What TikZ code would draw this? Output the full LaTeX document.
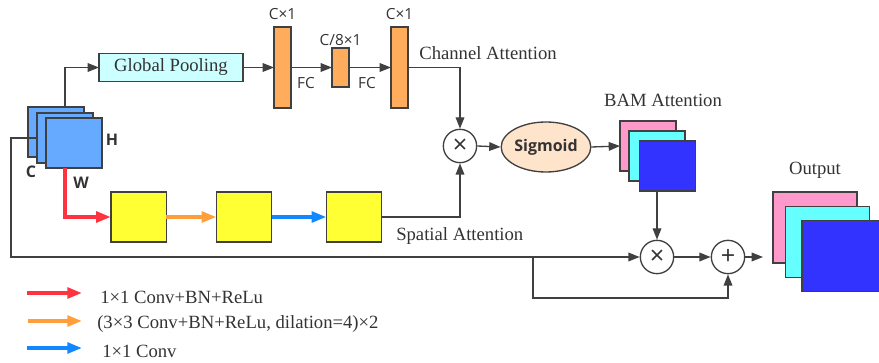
\documentclass[tikz,border=0pt]{standalone}
\usepackage{fontspec}
\setmainfont{Liberation Serif}
\newfontfamily\labfont{Open Sans}
\usetikzlibrary{arrows.meta,shapes.geometric,calc}
\definecolor{lineg}{HTML}{404040}
\definecolor{txtc}{HTML}{333333}
\definecolor{inblue}{HTML}{66AAFF}
\definecolor{gpfill}{HTML}{CCFFFF}
\definecolor{barfill}{HTML}{FFAD5C}
\definecolor{yel}{HTML}{FFFF33}
\definecolor{sigfill}{HTML}{FFE4CC}
\definecolor{pinkc}{HTML}{FF99CC}
\definecolor{cyanc}{HTML}{66FFFF}
\definecolor{bluec}{HTML}{3333FF}
\definecolor{redc}{HTML}{FF3340}
\definecolor{orgc}{HTML}{FF9E3A}
\definecolor{blc}{HTML}{1188FF}
\tikzset{
  ln/.style={draw=lineg, line width=1pt},
  arr/.style={ln, -{Triangle[length=8.5pt,width=6.5pt]}},
  carr/.style={line width=2.6pt, -{Triangle[length=11pt,width=8pt]}},
  sq/.style={draw=lineg, line width=1pt, inner sep=0pt, outer sep=0pt},
  cube/.style={sq, fill=inblue, minimum width=42pt, minimum height=37.5pt},
  bam/.style={sq, minimum width=42pt, minimum height=37.5pt},
  outc/.style={sq, minimum width=63pt, minimum height=53.25pt},
  bar/.style={sq, fill=barfill, minimum width=12.75pt},
  ybox/.style={sq, fill=yel, minimum width=41.5pt, minimum height=37.5pt},
  opc/.style={circle, draw=lineg, line width=1pt, fill=white, minimum size=25pt, inner sep=0pt, text=txtc, font=\labfont\fontsize{19}{19}\selectfont},
  sertxt/.style={font=\fontsize{14}{16}\selectfont, inner sep=0pt, text=txtc},
  sanst/.style={font=\labfont\fontsize{11.5}{13}\selectfont, inner sep=0pt, text=txtc},
  bsans/.style={font=\labfont\bfseries\fontsize{12}{13}\selectfont, inner sep=0pt, text=txtc},
}
\begin{document}
\begin{tikzpicture}[x=0.75pt,y=-0.75pt]
\useasboundingbox (0,0) rectangle (879,363);
% input cubes
\node[cube] (c1) at (56,132) {};
\node[cube] (c2) at (65,138) {};
\node[cube] (c3) at (74,143) {};
\node[bsans] (lh) at (112,140) {H};
\node[bsans] (lc) at (31,172) {C};
\node[bsans] (lw) at (81,183) {W};
% channel branch
\node[sq, fill=gpfill, minimum width=108pt, minimum height=21pt, sertxt] (gp) at (171,67.5) {Global Pooling};
\node[bar, minimum height=60.75pt] (b1) at (282.5,67.5) {};
\node[bar, minimum height=29.25pt] (b2) at (340.5,67.5) {};
\node[bar, minimum height=60.75pt] (b3) at (399.5,67.5) {};
\node[sanst] (t1) at (282.5,14) {C×1};
\node[sanst] (t2) at (340.5,40) {C/8×1};
\node[sanst] (t3) at (399.5,14) {C×1};
\node[sanst] (fc1) at (306,83) {FC};
\node[sanst] (fc2) at (367,83) {FC};
\node[sertxt] (cha) at (488,53) {Channel Attention};
% spatial branch
\node[ybox] (y1) at (138.5,217) {};
\node[ybox] (y2) at (244,217) {};
\node[ybox] (y3) at (354,217) {};
\node[sertxt, anchor=west] (spa) at (396,236) {Spatial Attention};
% fusion
\node[opc] (m1) at (460,146) {×};
\node[ellipse, draw=lineg, line width=1pt, fill=sigfill, minimum width=66pt, minimum height=37.5pt, inner sep=0pt, text=txtc, font=\labfont\bfseries\fontsize{12}{13}\selectfont] (sig) at (546,147) {Sigmoid};
\node[bam, fill=pinkc] (p1) at (648,146) {};
\node[bam, fill=cyanc] (p2) at (657,156) {};
\node[bam, fill=bluec] (p3) at (667.5,166) {};
\node[sertxt] (bamt) at (663,100) {BAM Attention};
\node[opc] (m2) at (657,257) {×};
\node[opc] (pl) at (728,257) {+};
\node[outc, fill=pinkc] (o1) at (815,227.5) {};
\node[outc, fill=cyanc] (o2) at (827.5,242) {};
\node[outc, fill=bluec] (o3) at (844,256) {};
\node[sertxt] (outt) at (815,170) {Output};
\coordinate (outend) at (763,257);
% connectors
\draw[arr] (c2 |- c1.north) |- (gp.west);
\draw[arr] (gp.east) -- (b1.west);
\draw[arr] (b1.east) -- (b2.west);
\draw[arr] (b2.east) -- (b3.west);
\draw[arr] (b3.east) -| (m1.north);
\draw[arr] (y3.east) -| (m1.south);
\draw[arr] (m1.east) -- (sig.west);
\draw[arr] (sig.east) -- (p1.west);
\draw[arr] (p3.south -| p2) -- (m2.north);
\draw[arr] (c2.west) -| (11,257) -- (m2.west);
\draw[arr] (533,257) |- (728,298) -- (pl.south);
\draw[arr] (m2.east) -- (pl.west);
\draw[arr] (pl.east) -- (outend);
\draw[carr, redc] (c2 |- c3.south) |- (y1.west);
\draw[carr, orgc] (y1.east) -- (y2.west);
\draw[carr, blc] (y2.east) -- (y3.west);
% legend
\coordinate (la1) at (27,293);
\coordinate (lb1) at (82,293);
\coordinate (la2) at (28,321);
\coordinate (lb2) at (82,321);
\coordinate (la3) at (27,348);
\coordinate (lb3) at (82,348);
\draw[carr, redc] (la1) -- (lb1);
\draw[carr, orgc] (la2) -- (lb2);
\draw[carr, blc] (la3) -- (lb3);
\node[sertxt, anchor=west] (lg1) at (100,297) {1×1 Conv+BN+ReLu};
\node[sertxt, anchor=west] (lg2) at (97,324) {(3×3 Conv+BN+ReLu, dilation=4)×2};
\node[sertxt, anchor=west] (lg3) at (102,351) {1×1 Conv};
\end{tikzpicture}
\end{document}
